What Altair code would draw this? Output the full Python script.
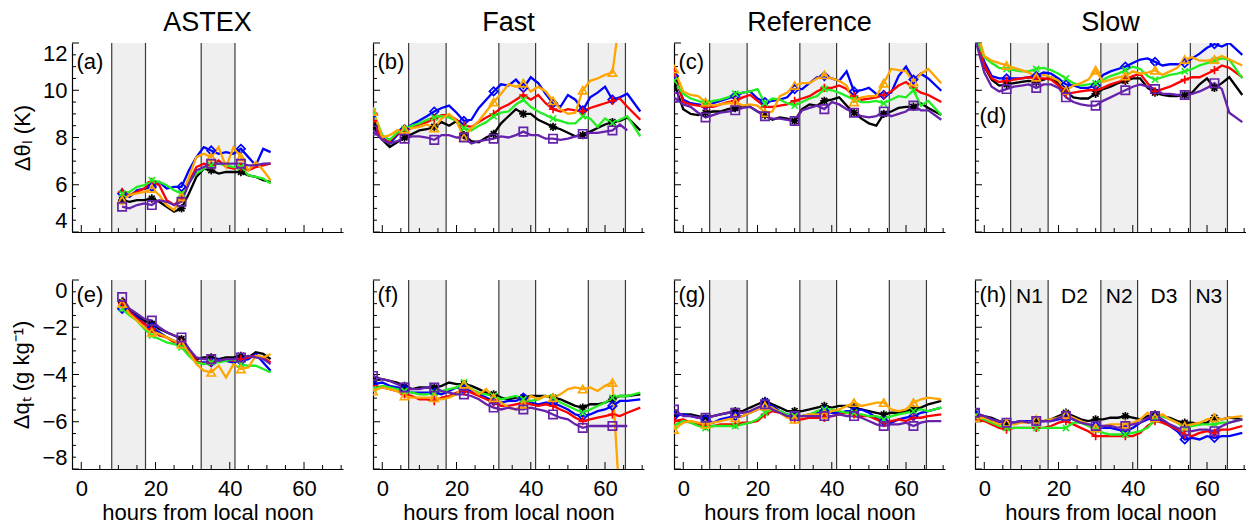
import altair as alt
import pandas as pd

FONT = "Liberation Sans"

# ---------------- time axes ----------------
T_RUN = [-2.5] + list(range(0, 67, 2)) + [69.5]
T_ASTEX = list(range(11, 52, 2))
MARK_RUN = [-2.5, 6, 14, 22, 30, 38, 46, 54, 62]
MARK_ASTEX = [11, 19, 27, 35, 43]
NIGHTS_RUN = [(7.1, 17.2), (31.4, 41.3), (55.5, 65.5)]
NIGHTS_ASTEX = [(8.2, 17.3), (32.3, 41.4)]

SERIES = ["black", "blue", "red", "green", "orange", "purple"]
COLORS = ["#000000", "#0000ff", "#ff0000", "#22ee22", "#ffa500", "#6622aa"]
SHAPES = [
    "M-1,0L1,0M0,-1L0,1M-0.7,-0.7L0.7,0.7M-0.7,0.7L0.7,-0.7",
    "diamond",
    "M-1,0L1,0M0,-1L0,1",
    "M-0.75,-0.75L0.75,0.75M-0.75,0.75L0.75,-0.75",
    "triangle-up",
    "square",
]
TITLES = ["ASTEX", "Fast", "Reference", "Slow"]
DAY_LABELS = ["N1", "D2", "N2", "D3", "N3"]
DAY_CENTERS = [12.15, 24.3, 36.35, 48.4, 60.5]

# ---------------- (a) ASTEX, delta theta_l ----------------
A_BLACK = [5.35, 5.28, 5.35, 5.35, 5.42, 5.28, 5.07, 4.86, 5.0, 5.63, 6.33, 6.68, 6.61, 6.47, 6.54, 6.54, 6.54, 6.4, 6.33, 6.19, 6.12]
A_BLUE = [5.63, 5.49, 5.77, 5.84, 5.91, 6.12, 5.84, 5.91, 5.91, 6.61, 7.17, 7.59, 7.45, 7.31, 7.38, 7.31, 7.52, 7.17, 6.82, 7.52, 7.38]
A_RED = [5.7, 5.56, 5.7, 5.84, 6.12, 5.98, 5.35, 5.14, 5.42, 6.12, 6.75, 6.89, 6.82, 7.03, 6.75, 6.68, 6.75, 6.61, 6.75, 6.82, 6.89]
A_GREEN = [5.63, 5.7, 5.91, 5.98, 6.19, 6.12, 5.98, 5.77, 5.63, 6.12, 6.47, 6.68, 6.82, 6.89, 6.82, 6.75, 6.75, 6.4, 6.33, 6.26, 6.05]
A_ORANGE = [5.35, 5.56, 5.63, 5.7, 5.84, 5.56, 5.14, 4.93, 5.49, 6.33, 7.17, 7.31, 7.17, 7.59, 6.75, 7.59, 7.17, 6.61, 6.96, 6.61, 6.19]
A_PURPLE = [5.07, 5.0, 5.14, 5.21, 5.14, 5.35, 5.28, 5.14, 5.28, 6.05, 6.61, 6.75, 6.89, 6.89, 6.89, 6.89, 6.89, 6.82, 6.82, 6.89, 6.9]

# ---------------- (b) Fast ----------------
B_BLACK = [8.5, 7.9, 7.6, 7.8, 8.0, 8.15, 8.3, 8.35, 8.45, 8.65, 8.5, 8.7, 8.1, 7.85, 7.8, 8.0, 8.15, 8.6, 8.9, 9.2, 9.0, 9.0, 8.75, 8.6, 8.45, 8.35, 8.2, 8.05, 8.1, 8.25, 8.4, 8.55, 8.65, 8.7, 8.85, 8.3]
B_BLUE = [9.0, 8.0, 7.75, 8.1, 8.35, 8.55, 8.72, 8.9, 9.1, 9.25, 9.35, 9.05, 8.7, 8.75, 9.25, 9.6, 9.95, 10.25, 10.2, 10.45, 10.1, 10.55, 10.3, 9.85, 9.45, 9.3, 9.8, 9.6, 9.15, 9.7, 9.9, 10.15, 9.6, 9.7, 9.85, 9.1]
B_RED = [8.7, 7.9, 7.85, 8.15, 8.3, 8.4, 8.55, 8.65, 8.8, 8.95, 8.95, 8.75, 8.5, 8.45, 8.65, 8.85, 9.0, 9.25, 9.4, 9.6, 9.8, 9.6, 9.8, 9.45, 9.2, 9.1, 9.2, 9.15, 9.1, 9.25, 9.35, 9.45, 9.55, 9.65, 9.3, 8.75]
B_GREEN = [9.1, 8.1, 7.9, 8.2, 8.35, 8.5, 8.6, 8.75, 8.85, 8.9, 8.85, 8.7, 8.4, 8.3, 8.5, 8.65, 8.9, 9.05, 9.1, 9.4, 9.6, 9.3, 9.1, 8.95, 8.8, 8.7, 8.6, 8.6, 8.9, 8.8, 8.45, 8.8, 8.6, 8.75, 8.9, 8.05]
B_ORANGE = [9.1, 8.0, 8.1, 8.3, 8.35, 8.4, 8.45, 8.55, 8.4, 8.8, 9.0, 8.7, 8.0, 8.4, 8.7, 9.1, 9.5, 9.85, 10.25, 10.15, 10.3, 9.95, 10.15, 9.95, 9.55, 9.2, 9.0, 9.05, 10.0, 10.4, 10.5, 10.65, 10.75, 13.1, None, None]
B_PURPLE = [8.3, 7.9, 7.75, 7.85, 7.95, 8.05, 8.05, 8.0, 7.9, 8.1, 8.1, 8.0, 8.0, 7.75, 7.85, 7.9, 7.95, 8.05, 8.0, 8.1, 8.25, 8.1, 8.1, 7.95, 7.95, 7.9, 7.95, 8.05, 8.15, 8.2, 8.2, 8.25, 8.3, 8.55, 8.3, None]

# ---------------- (c) Reference ----------------
C_BLACK = [10.3, 9.2, 9.0, 8.95, 9.05, 9.1, 9.1, 9.2, 9.25, 9.3, 9.3, 9.1, 8.95, 8.75, 8.85, 8.8, 8.7, 9.2, 9.4, 9.35, 9.55, 9.6, 9.7, 9.35, 9.05, 8.8, 8.6, 8.5, 9.0, 9.1, 9.25, 9.3, 9.3, 9.45, 9.25, 8.95]
C_BLUE = [10.6, 9.6, 9.45, 9.4, 9.35, 9.45, 9.55, 9.65, 9.75, 9.9, 9.95, 9.65, 9.5, 9.55, 9.6, 9.7, 10.05, 10.05, 10.3, 10.55, 10.6, 10.5, 10.4, 10.8, 9.95, 10.0, 10.1, 9.85, 9.8, 9.9, 10.6, 11.0, 10.45, 10.7, 10.5, 9.98]
C_RED = [10.8, 9.5, 9.4, 9.35, 9.3, 9.3, 9.4, 9.5, 9.55, 9.7, 9.8, 9.55, 9.3, 9.3, 9.35, 9.4, 9.55, 9.65, 9.75, 9.95, 10.1, 10.1, 10.2, 10.05, 9.75, 9.6, 9.65, 9.7, 9.8, 9.95, 10.2, 10.35, 10.1, 9.9, 9.8, 9.5]
C_GREEN = [10.4, 9.85, 9.65, 9.55, 9.45, 9.55, 9.6, 9.7, 9.85, 9.9, 9.95, 10.05, 9.45, 9.65, 9.6, 9.45, 9.35, 9.5, 9.65, 9.75, 10.05, 10.0, 9.9, 9.75, 9.6, 9.5, 9.5, 9.55, 9.45, 9.6, 9.75, 9.7, 10.0, 9.35, 9.55, 8.95]
C_ORANGE = [10.9, 9.95, 9.8, 9.75, 9.5, 9.35, 9.4, 9.45, 9.5, 9.35, 9.4, 9.35, 9.05, 9.1, 9.75, 9.9, 10.2, 10.3, 10.3, 10.5, 10.65, 10.5, 10.4, 10.2, 9.5, 9.7, 9.75, 9.75, 10.3, 10.9, 10.85, 10.8, 10.35, 10.7, 10.9, 10.3]
C_PURPLE = [9.7, 9.4, 9.3, 9.05, 8.85, 8.95, 9.05, 9.1, 9.15, 9.25, 9.3, 9.1, 8.9, 8.8, 8.8, 8.75, 8.7, 9.15, 9.25, 9.35, 9.2, 9.5, 9.4, 9.2, 9.05, 8.9, 8.85, 8.9, 9.1, 8.9, 9.0, 9.1, 9.35, 9.15, 9.15, 8.75]

# ---------------- (d) Slow ----------------
D_BLACK = [12.3, 11.0, 10.45, 10.2, 10.25, 10.3, 10.35, 10.4, 10.35, 10.45, 10.55, 10.3, 9.95, 9.7, 9.65, 9.65, 9.85, 10.05, 10.15, 10.3, 10.4, 10.5, 10.5, 10.1, 9.9, 9.8, 9.75, 9.75, 9.8, 9.9, 10.25, 10.5, 10.1, 10.3, 10.55, 9.8]
D_BLUE = [12.5, 11.2, 10.6, 10.5, 10.5, 10.5, 10.5, 10.55, 10.6, 10.75, 10.7, 10.5, 10.25, 10.2, 10.1, 10.1, 10.2, 10.65, 10.8, 10.9, 11.0, 11.15, 11.3, 11.35, 11.2, 11.05, 11.1, 11.1, 11.15, 11.35, 11.55, 11.8, 11.95, 11.85, 12.0, 11.5]
D_RED = [12.4, 11.05, 10.5, 10.35, 10.4, 10.45, 10.5, 10.55, 10.5, 10.5, 10.45, 10.2, 9.85, 9.9, 9.95, 10.0, 10.0, 10.1, 10.25, 10.35, 10.45, 10.6, 10.7, 10.3, 9.95, 10.05, 10.15, 10.3, 10.45, 10.55, 10.55, 10.7, 10.85, 11.05, 10.95, 10.55]
D_GREEN = [12.3, 11.4, 11.15, 10.95, 10.9, 10.85, 10.8, 10.8, 10.9, 10.95, 10.85, 10.7, 10.5, 10.3, 10.2, 10.25, 10.3, 10.45, 10.6, 10.7, 10.85, 11.0, 10.9, 10.6, 10.45, 10.55, 10.65, 10.7, 10.8, 10.9, 11.05, 11.15, 11.25, 11.35, 11.3, 10.5]
D_ORANGE = [12.8, 11.45, 11.25, 11.15, 11.05, 10.95, 10.85, 10.75, 10.55, 10.65, 10.55, 10.4, 10.0, 10.2, 10.3, 10.45, 10.85, 10.35, 10.45, 10.55, 10.6, 10.8, 10.7, 10.75, 10.85, 10.65, 10.8, 10.95, 11.3, 11.4, 11.25, 11.25, 11.3, 11.45, 11.3, 11.05]
D_PURPLE = [12.2, 10.75, 10.15, 9.95, 10.05, 10.15, 10.2, 10.25, 10.1, 10.25, 10.25, 10.1, 9.7, 9.5, 9.4, 9.35, 9.35, 9.55, 9.7, 9.85, 10.0, 10.15, 10.25, 10.15, 10.05, 9.85, 9.85, 9.8, 9.8, 9.85, 9.95, 10.1, 10.3, 10.05, 9.05, 8.65]

# ---------------- (e) ASTEX, delta q_t ----------------
E_BLACK = [-0.94, -1.29, -1.5, -1.72, -1.86, -2.07, -2.21, -2.35, -2.5, -2.92, -3.35, -3.28, -3.28, -3.35, -3.28, -3.28, -3.21, -3.28, -3.06, -3.13, -3.35]
E_BLUE = [-1.22, -1.36, -1.57, -1.86, -2.0, -2.21, -2.43, -2.57, -2.71, -3.13, -3.49, -3.49, -3.49, -3.35, -3.42, -3.49, -3.42, -3.35, -3.13, -3.49, -3.84]
E_RED = [-1.0, -1.36, -1.65, -1.86, -2.07, -2.35, -2.43, -2.64, -2.64, -3.06, -3.42, -3.56, -3.49, -3.42, -3.35, -3.42, -3.35, -3.28, -3.21, -3.28, -3.49]
E_GREEN = [-1.22, -1.5, -1.72, -2.07, -2.35, -2.5, -2.64, -2.71, -2.85, -3.21, -3.49, -3.56, -3.49, -3.49, -3.42, -3.35, -3.56, -3.63, -3.63, -3.77, -3.91]
E_ORANGE = [-1.0, -1.43, -1.72, -2.0, -2.21, -2.28, -2.43, -2.57, -2.71, -3.06, -3.56, -3.84, -3.91, -3.63, -4.13, -3.56, -3.77, -3.7, -3.21, -3.28, -3.13]
E_PURPLE = [-0.72, -1.22, -1.43, -1.65, -1.72, -2.0, -2.21, -2.35, -2.43, -2.92, -3.28, -3.35, -3.35, -3.42, -3.35, -3.35, -3.28, -3.21, -3.28, -3.35, -3.56]

# ---------------- (f) Fast ----------------
F_BLACK = [-4.27, -4.2, -4.27, -4.34, -4.48, -4.62, -4.55, -4.55, -4.55, -4.48, -4.34, -4.41, -4.41, -4.48, -4.62, -4.77, -4.84, -4.98, -5.05, -4.98, -4.98, -4.91, -4.91, -4.91, -4.98, -5.05, -5.19, -5.33, -5.4, -5.26, -5.26, -5.19, -5.05, -4.91, -4.91, -4.84]
F_BLUE = [-4.41, -4.34, -4.48, -4.55, -4.62, -4.77, -4.77, -4.77, -4.77, -4.84, -4.7, -4.55, -4.62, -4.7, -4.84, -4.98, -5.12, -5.19, -5.12, -5.12, -4.98, -5.19, -5.26, -5.19, -5.19, -5.33, -5.48, -5.69, -5.76, -5.69, -5.55, -5.48, -5.33, -5.12, -5.12, -5.05]
F_RED = [-4.48, -4.55, -4.62, -4.7, -4.84, -4.91, -5.05, -5.05, -5.12, -4.98, -4.91, -4.77, -4.7, -4.77, -4.91, -5.05, -5.19, -5.33, -5.33, -5.26, -5.19, -5.26, -5.33, -5.26, -5.33, -5.48, -5.62, -5.83, -5.97, -5.9, -5.83, -5.76, -5.69, -5.76, -5.62, -5.4]
F_GREEN = [-4.62, -4.48, -4.55, -4.62, -4.7, -4.77, -4.84, -4.84, -4.77, -4.7, -4.62, -4.55, -4.34, -4.62, -4.77, -4.84, -4.91, -5.05, -4.98, -4.91, -5.05, -5.12, -5.05, -4.91, -4.98, -5.19, -5.33, -5.48, -5.62, -5.48, -5.33, -5.19, -4.98, -4.91, -4.91, -4.77]
F_ORANGE = [-4.7, -4.55, -4.62, -4.7, -4.91, -4.98, -4.98, -4.98, -4.98, -5.05, -4.98, -4.84, -4.41, -4.62, -4.84, -4.62, -4.98, -5.19, -5.4, -5.48, -5.26, -4.91, -5.05, -4.91, -4.98, -4.84, -4.62, -4.55, -4.62, -4.55, -4.7, -4.48, -4.34, -9.5, None, None]
F_PURPLE = [-4.06, -4.2, -4.27, -4.41, -4.55, -4.62, -4.62, -4.55, -4.55, -4.7, -4.77, -4.84, -4.84, -4.91, -5.05, -5.26, -5.4, -5.48, -5.4, -5.48, -5.48, -5.4, -5.48, -5.55, -5.69, -5.83, -5.9, -6.11, -6.26, -6.18, -6.18, -6.18, -6.18, -6.18, -6.18, None]

# ---------------- (g) Reference ----------------
G_BLACK = [-5.69, -5.69, -5.69, -5.76, -5.83, -5.76, -5.69, -5.62, -5.55, -5.55, -5.4, -5.26, -5.12, -5.26, -5.4, -5.55, -5.55, -5.55, -5.48, -5.4, -5.33, -5.4, -5.33, -5.33, -5.4, -5.48, -5.55, -5.62, -5.69, -5.62, -5.62, -5.55, -5.48, -5.4, -5.26, -5.12]
G_BLUE = [-5.76, -5.69, -5.76, -5.83, -5.9, -6.04, -5.9, -5.83, -5.76, -5.76, -5.62, -5.48, -5.19, -5.33, -5.55, -5.69, -5.76, -5.76, -5.69, -5.62, -5.55, -5.62, -5.62, -5.55, -5.55, -5.48, -5.62, -5.83, -5.97, -6.04, -5.9, -5.83, -5.76, -5.62, -5.55, -5.4]
G_RED = [-5.97, -5.9, -6.04, -6.11, -6.18, -6.18, -6.11, -6.11, -6.11, -6.04, -6.04, -5.97, -5.69, -5.55, -5.62, -5.76, -5.9, -5.9, -5.83, -5.83, -5.83, -5.76, -5.69, -5.62, -5.69, -5.76, -5.76, -5.9, -6.04, -5.97, -5.9, -5.97, -5.83, -5.83, -5.76, -5.69]
G_GREEN = [-6.18, -5.97, -6.04, -6.18, -6.26, -6.18, -6.18, -6.18, -6.18, -6.11, -6.04, -5.9, -5.62, -5.48, -5.55, -5.69, -5.76, -5.76, -5.69, -5.55, -5.48, -5.48, -5.55, -5.62, -5.62, -5.69, -5.76, -5.76, -5.9, -5.76, -5.69, -5.62, -5.55, -5.48, -5.55, -5.4]
G_ORANGE = [-6.33, -6.04, -5.97, -6.04, -6.11, -6.04, -5.97, -5.9, -5.83, -5.76, -5.62, -5.48, -5.33, -5.4, -5.62, -5.83, -5.9, -5.76, -5.69, -5.69, -5.69, -5.55, -5.48, -5.33, -5.19, -5.33, -5.26, -5.19, -5.19, -5.48, -5.55, -5.48, -5.19, -5.05, -4.98, -5.05]
G_PURPLE = [-5.48, -5.76, -5.76, -5.83, -5.83, -5.76, -5.69, -5.62, -5.62, -5.62, -5.55, -5.4, -5.26, -5.48, -5.62, -5.76, -5.76, -5.76, -5.76, -5.76, -5.76, -5.76, -5.69, -5.76, -5.76, -5.83, -5.97, -6.11, -6.18, -6.11, -6.11, -6.04, -6.18, -6.04, -5.97, -5.97]

# ---------------- (h) Slow ----------------
H_BLACK = [-5.69, -5.76, -5.83, -5.97, -6.04, -6.04, -5.97, -5.97, -5.97, -5.97, -5.9, -5.76, -5.62, -5.76, -5.9, -5.97, -5.9, -5.9, -5.83, -5.83, -5.76, -5.83, -5.9, -5.76, -5.69, -5.76, -5.83, -5.97, -6.04, -6.04, -6.11, -6.04, -5.83, -5.9, -5.83, -5.9]
H_BLUE = [-5.69, -5.83, -5.9, -6.04, -6.11, -6.04, -5.97, -5.97, -5.97, -5.97, -5.97, -5.9, -5.83, -5.9, -6.04, -6.11, -6.18, -6.26, -6.26, -6.33, -6.4, -6.26, -6.04, -5.9, -5.83, -5.97, -6.18, -6.4, -6.75, -6.68, -6.75, -6.61, -6.68, -6.61, -6.61, -6.47]
H_RED = [-5.9, -5.97, -6.11, -6.26, -6.33, -6.26, -6.26, -6.26, -6.26, -6.26, -6.18, -6.04, -5.97, -6.11, -6.26, -6.4, -6.61, -6.61, -6.61, -6.61, -6.61, -6.61, -6.47, -6.18, -5.97, -6.04, -6.18, -6.33, -6.54, -6.61, -6.47, -6.4, -6.47, -6.33, -6.33, -6.18]
H_GREEN = [-5.76, -5.9, -6.04, -6.18, -6.26, -6.26, -6.26, -6.26, -6.26, -6.26, -6.26, -6.26, -6.26, -6.04, -6.04, -6.18, -6.33, -6.47, -6.54, -6.54, -6.54, -6.47, -6.4, -6.26, -5.9, -5.76, -5.9, -6.04, -6.26, -6.18, -6.11, -6.11, -6.11, -6.04, -6.04, -5.9]
H_ORANGE = [-5.83, -5.83, -5.97, -6.11, -6.04, -6.11, -6.04, -6.04, -5.9, -5.97, -5.9, -5.83, -5.69, -5.83, -5.97, -6.11, -6.26, -6.18, -6.11, -6.11, -6.11, -6.04, -5.9, -5.62, -5.83, -5.69, -5.9, -6.04, -6.18, -6.11, -6.04, -5.9, -5.83, -5.9, -5.83, -5.76]
H_PURPLE = [-5.62, -5.76, -5.9, -5.97, -6.04, -6.04, -5.97, -6.04, -5.97, -5.97, -5.97, -5.83, -5.76, -5.9, -6.04, -6.11, -6.18, -6.18, -6.18, -6.26, -6.18, -6.11, -6.04, -5.83, -5.76, -5.9, -6.11, -6.26, -6.4, -6.4, -6.33, -6.33, -6.4, -6.18, -6.04, -5.9]

TOP_DOM = [4, 12]
BOT_DOM = [-8, 0]
TOP_MAJOR = [4, 6, 8, 10, 12]
BOT_MAJOR = [-8, -6, -4, -2, 0]
X_MAJOR = [0, 20, 40, 60]
X_MINOR = [5, 10, 15, 25, 30, 35, 45, 50, 55, 65, 70]
XDOM = [-2.5, 70.5]
W, H = 271, 189


def minors(dom, majors):
    out = []
    v = dom[0]
    while v <= dom[1] + 1e-9:
        if all(abs(v - m) > 1e-9 for m in majors):
            out.append(round(v, 2))
        v += 0.5
    return out


def make_panel(vals, times, marks, nights, dom, majors, letter, letter_v,
               top, first, title=None, day_labels=False):
    xs = alt.Scale(domain=XDOM, nice=False, zero=False)
    ys = alt.Scale(domain=dom, nice=False, zero=False)
    if top:
        xaxis = alt.Axis(labels=False, ticks=False, title=None, grid=False)
    else:
        xaxis = alt.Axis(values=X_MAJOR, ticks=False, labelPadding=9, labelFlush=False,
                         title="hours from local noon", titlePadding=3, grid=False)
    if first:
        ytitle = "\u0394\u03b8\u2097 (K)" if top else "\u0394q\u209c (g kg\u207b\u00b9)"
        yaxis = alt.Axis(values=majors, ticks=False, labelPadding=5, labelFlush=True,
                         title=ytitle, titlePadding=8, grid=False)
    else:
        yaxis = alt.Axis(labels=False, ticks=False, title=None, grid=False)
    X = alt.X("t:Q", scale=xs, axis=xaxis)
    Y = alt.Y("v:Q", scale=ys, axis=yaxis)

    rows = []
    for s, series in zip(SERIES, vals):
        for t, v in zip(times, series):
            if v is not None:
                rows.append({"t": t, "v": v, "s": s})
    df = pd.DataFrame(rows)
    dfm = df[df["t"].isin(marks)]

    bands = pd.DataFrame({"t": [a for a, b in nights], "t2": [b for a, b in nights],
                          "v": dom[0], "v2": dom[1]})
    edges = pd.DataFrame({"t": [e for n in nights for e in n], "v": dom[0], "v2": dom[1]})
    ymaj = pd.DataFrame({"v": majors})
    ymin = pd.DataFrame({"v": minors(dom, majors)})
    xmaj = pd.DataFrame({"t": X_MAJOR})
    xmin = pd.DataFrame({"t": X_MINOR})

    color = alt.Color("s:N", scale=alt.Scale(domain=SERIES, range=COLORS), legend=None)
    shape = alt.Shape("s:N", scale=alt.Scale(domain=SERIES, range=SHAPES), legend=None)

    layers = [
        alt.Chart(bands).mark_rect(color="#efefef").encode(x=X, x2="t2:Q", y=Y, y2="v2:Q"),
        alt.Chart(edges).mark_rule(color="#3a3a3a", strokeWidth=1.2).encode(x=X, y=Y, y2="v2:Q"),
        alt.Chart(ymaj).mark_rule(color="black").encode(y=Y, x=alt.value(0), x2=alt.value(7)),
        alt.Chart(ymin).mark_rule(color="black").encode(y=Y, x=alt.value(0), x2=alt.value(4)),
        alt.Chart(xmaj).mark_rule(color="black").encode(x=X, y=alt.value(H), y2=alt.value(H - 7)),
        alt.Chart(xmin).mark_rule(color="black").encode(x=X, y=alt.value(H), y2=alt.value(H - 4)),
        alt.Chart(df).mark_line(strokeWidth=2.3, clip=True).encode(x=X, y=Y, color=color),
        alt.Chart(dfm).mark_point(filled=False, size=70, strokeWidth=1.7, clip=True, opacity=1).encode(
            x=X, y=Y, color=color, shape=shape),
        alt.Chart(pd.DataFrame({"t": [-1.3], "v": [letter_v], "label": [letter]})).mark_text(
            align="left", baseline="middle", fontSize=22, font=FONT, color="black").encode(
            x=X, y=Y, text="label:N"),
    ]
    if day_labels:
        dl = pd.DataFrame({"t": DAY_CENTERS, "v": -0.72, "label": DAY_LABELS})
        layers.append(alt.Chart(dl).mark_text(align="center", baseline="middle", fontSize=21,
                                              font=FONT, color="black").encode(
            x=X, y=Y, text="label:N"))
    props = dict(width=W, height=H)
    if title is not None:
        props["title"] = alt.TitleParams(title, fontSize=27, fontWeight="normal", font=FONT,
                                         color="black", offset=5, anchor="middle")
    return alt.layer(*layers).properties(**props)


top_vals = [
    [A_BLACK, A_BLUE, A_RED, A_GREEN, A_ORANGE, A_PURPLE],
    [B_BLACK, B_BLUE, B_RED, B_GREEN, B_ORANGE, B_PURPLE],
    [C_BLACK, C_BLUE, C_RED, C_GREEN, C_ORANGE, C_PURPLE],
    [D_BLACK, D_BLUE, D_RED, D_GREEN, D_ORANGE, D_PURPLE],
]
bot_vals = [
    [E_BLACK, E_BLUE, E_RED, E_GREEN, E_ORANGE, E_PURPLE],
    [F_BLACK, F_BLUE, F_RED, F_GREEN, F_ORANGE, F_PURPLE],
    [G_BLACK, G_BLUE, G_RED, G_GREEN, G_ORANGE, G_PURPLE],
    [H_BLACK, H_BLUE, H_RED, H_GREEN, H_ORANGE, H_PURPLE],
]
top_letters = [("(a)", 11.2), ("(b)", 11.2), ("(c)", 11.2), ("(d)", 8.93)]
bot_letters = [("(e)", -0.65), ("(f)", -0.65), ("(g)", -0.65), ("(h)", -0.65)]

panels = []
for i in range(4):
    astex = i == 0
    panels.append(make_panel(top_vals[i], T_ASTEX if astex else T_RUN,
                             MARK_ASTEX if astex else MARK_RUN,
                             NIGHTS_ASTEX if astex else NIGHTS_RUN,
                             TOP_DOM, TOP_MAJOR, top_letters[i][0], top_letters[i][1],
                             top=True, first=astex, title=TITLES[i]))
for i in range(4):
    astex = i == 0
    panels.append(make_panel(bot_vals[i], T_ASTEX if astex else T_RUN,
                             MARK_ASTEX if astex else MARK_RUN,
                             NIGHTS_ASTEX if astex else NIGHTS_RUN,
                             BOT_DOM, BOT_MAJOR, bot_letters[i][0], bot_letters[i][1],
                             top=False, first=astex, day_labels=(i == 3)))

chart = alt.concat(*panels, columns=4, spacing={"row": 48, "column": 30}, bounds="flush").properties(
    padding={"left": 10, "top": 9, "right": 0, "bottom": 0}
).configure_view(stroke=None).configure_axis(
    domainColor="black", domainWidth=1.2, labelColor="black", titleColor="black",
    labelFont=FONT, titleFont=FONT, labelFontSize=22, titleFontSize=22,
    titleFontWeight="normal", zindex=1
)

chart.save("out.html", embed_options={"renderer": "svg", "actions": False})
